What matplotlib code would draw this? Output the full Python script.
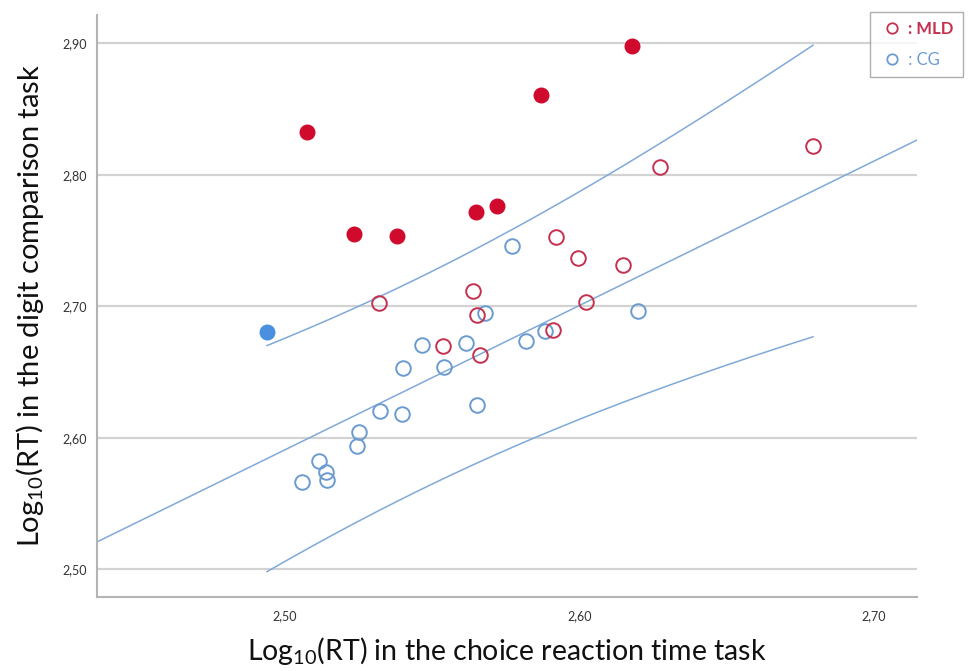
import numpy as np
import matplotlib
matplotlib.use("Agg")
import matplotlib.pyplot as plt
from matplotlib.ticker import FuncFormatter, FixedLocator
from matplotlib.lines import Line2D

# ---- data ----
cg_open_x = [2.5771, 2.5679, 2.6199, 2.5465, 2.5615, 2.5818, 2.5883, 2.5401, 2.5540,
             2.5652, 2.5323, 2.5397, 2.5251, 2.5244, 2.5115, 2.5139, 2.5143, 2.5058]
cg_open_y = [2.7460, 2.6949, 2.6964, 2.6706, 2.6721, 2.6736, 2.6812, 2.6530, 2.6537,
             2.6249, 2.6203, 2.6180, 2.6043, 2.5937, 2.5823, 2.5740, 2.5679, 2.5664]
cg_out_x = [2.4939]
cg_out_y = [2.6808]

mld_open_x = [2.6793, 2.6273, 2.5319, 2.5920, 2.5995, 2.6148, 2.5638, 2.5652,
              2.6022, 2.5910, 2.5537, 2.5662]
mld_open_y = [2.8220, 2.8060, 2.7027, 2.7530, 2.7369, 2.7316, 2.7118, 2.6936,
              2.7035, 2.6822, 2.6700, 2.6632]
mld_out_x = [2.5075, 2.6178, 2.5869, 2.5234, 2.5380, 2.5649, 2.5720]
mld_out_y = [2.8326, 2.8979, 2.8607, 2.7551, 2.7536, 2.7718, 2.7763]

x_ticks = [2.50, 2.60, 2.70]
y_ticks = [2.50, 2.60, 2.70, 2.80, 2.90]
legend_labels = [" : MLD", " : CG"]
x_label = r"Log$\mathregular{_{10}}$(RT) in the choice reaction time task"
y_label = r"Log$\mathregular{_{10}}$(RT) in the digit comparison task"

# ---- style ----
plt.rcParams['font.family'] = ['Lato', 'DejaVu Sans']
plt.rcParams['mathtext.fontset'] = 'custom'
plt.rcParams['mathtext.rm'] = 'Lato'
plt.rcParams['mathtext.it'] = 'Lato:italic'
plt.rcParams['mathtext.bf'] = 'Lato:bold'

RED = '#cf0a2c'
RED_OPEN = '#c4314f'
BLUE_OPEN = '#6b9bd1'
BLUE_FILL = '#4a8fe0'
LINE_BLUE = '#80a9d8'
GRID = '#d2d2d2'
SPINE = '#b4b4b4'

fig = plt.figure(figsize=(9.7, 6.71), dpi=100)
ax = fig.add_axes([97/970, 1-596.7/671, (917-97)/970, (596.7-15)/671])

xlim = (2.4362, 2.7146)
ylim = (2.4792, 2.9215)
ax.set_xlim(*xlim)
ax.set_ylim(*ylim)

# regression on CG group with 95% prediction interval
cx = np.array(cg_open_x + cg_out_x)
cy = np.array(cg_open_y + cg_out_y)
n = len(cx)
b, a = np.polyfit(cx, cy, 1)
res = cy - (a + b*cx)
s = np.sqrt(np.sum(res**2)/(n-2))
xbar = cx.mean()
sxx = np.sum((cx-xbar)**2)
t = 2.1098  # t(0.975, 17)

xl = np.linspace(xlim[0], xlim[1], 200)
ax.plot(xl, a + b*xl, color=LINE_BLUE, lw=1.1, zorder=2)
all_x = np.array(cg_open_x + cg_out_x + mld_open_x + mld_out_x)
xb = np.linspace(all_x.min(), all_x.max(), 200)
hw = t*s*np.sqrt(1 + 1/n + (xb-xbar)**2/sxx)
ax.plot(xb, a + b*xb + hw, color=LINE_BLUE, lw=1.1, zorder=2)
ax.plot(xb, a + b*xb - hw, color=LINE_BLUE, lw=1.1, zorder=2)

ms = 10.5
ax.plot(cg_open_x, cg_open_y, 'o', ms=ms, mfc='none', mec=BLUE_OPEN, mew=1.4, zorder=3)
ax.plot(mld_open_x, mld_open_y, 'o', ms=ms, mfc='none', mec=RED_OPEN, mew=1.4, zorder=3)
ax.plot(cg_out_x, cg_out_y, 'o', ms=ms, mfc=BLUE_FILL, mec=BLUE_FILL, mew=1.0, zorder=3)
ax.plot(mld_out_x, mld_out_y, 'o', ms=ms, mfc=RED, mec=RED, mew=1.0, zorder=3)

ax.xaxis.set_major_locator(FixedLocator(x_ticks))
ax.yaxis.set_major_locator(FixedLocator(y_ticks))
fmt = FuncFormatter(lambda v, p: f"{v:.2f}".replace('.', ','))
ax.xaxis.set_major_formatter(fmt)
ax.yaxis.set_major_formatter(fmt)
ax.tick_params(length=0, labelsize=9, labelcolor='#333333')
ax.tick_params(axis='x', pad=10)
ax.tick_params(axis='y', pad=7)

ax.grid(axis='y', color=GRID, lw=1.6, zorder=0)
ax.set_axisbelow(True)
for sp in ['top', 'right']:
    ax.spines[sp].set_visible(False)
for sp in ['left', 'bottom']:
    ax.spines[sp].set_color(SPINE)
    ax.spines[sp].set_linewidth(1.5)

ax.set_xlabel(x_label, fontsize=20.5, color='#111111', labelpad=9)
ax.set_ylabel(y_label, fontsize=21, color='#111111', labelpad=12)

handles = [Line2D([], [], ls='none', marker='o', ms=7.5, mfc='none', mec=RED_OPEN, mew=1.3),
           Line2D([], [], ls='none', marker='o', ms=7.5, mfc='none', mec=BLUE_OPEN, mew=1.3)]
leg = fig.legend(handles, legend_labels, loc='upper right',
                 bbox_to_anchor=(963/970, 1-12/671), frameon=True, fancybox=False,
                 edgecolor='#9a9a9a', fontsize=12, handletextpad=0.0,
                 handlelength=1.5, borderpad=0.55, labelspacing=0.9,
                 borderaxespad=0.0)
leg.get_frame().set_linewidth(1.0)
leg.set_zorder(10)
leg.get_texts()[0].set_color(RED_OPEN)
leg.get_texts()[0].set_fontweight('bold')
leg.get_texts()[1].set_color(BLUE_OPEN)

fig.savefig("out.png", dpi=100, facecolor='white')
